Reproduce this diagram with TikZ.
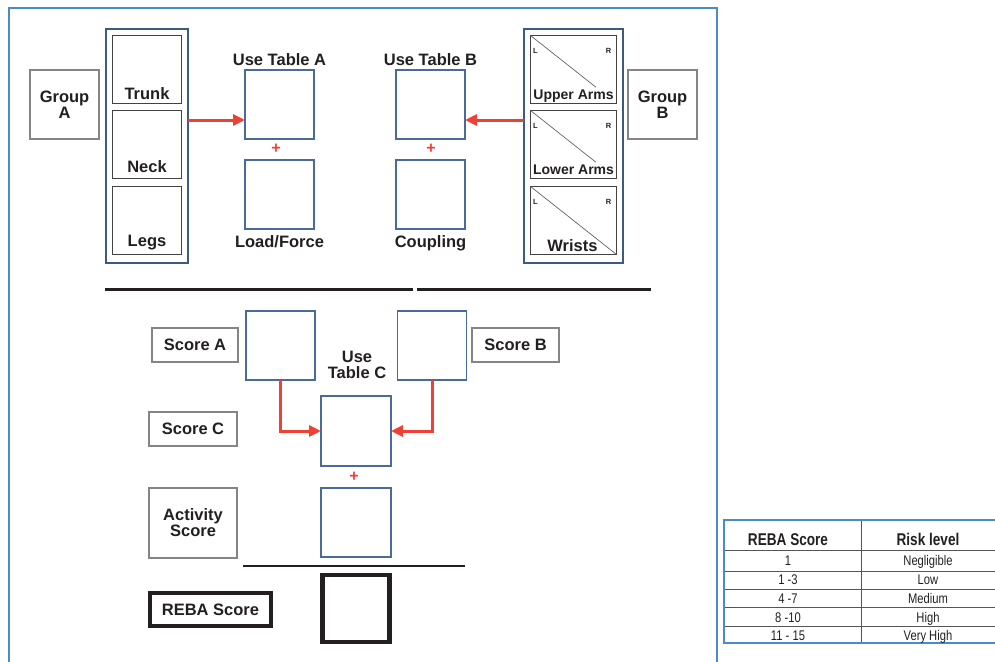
\documentclass[tikz,border=0pt]{standalone}
\usepackage{fontspec}
\setmainfont{Liberation Sans}
\newfontfamily\condfont[FakeStretch=0.8]{Liberation Sans}
\usetikzlibrary{arrows.meta,calc}
\definecolor{ink}{HTML}{231F20}
\definecolor{boxblue}{HTML}{4A6A99}
\definecolor{colblue}{HTML}{3D5A80}
\definecolor{lblgray}{HTML}{858585}
\definecolor{redarr}{HTML}{EE4035}
\definecolor{frameblue}{HTML}{4A8CCB}
\definecolor{tabline}{HTML}{555555}
\begin{document}
\begin{tikzpicture}[x=1pt,y=-1pt,
  txt/.style={font=\fontsize{16.5}{16.5}\selectfont\bfseries, text=ink, align=center, inner sep=0},
  sm/.style={font=\fontsize{14}{15}\selectfont\bfseries, text=ink, inner sep=0},
  lr/.style={font=\fontsize{7.5}{8}\selectfont\bfseries, text=ink, inner sep=0},
  bbox/.style={draw=boxblue, line width=1.2pt, inner sep=0, outer sep=0},
  cbox/.style={draw=colblue, line width=2pt, inner sep=0, outer sep=0},
  ibox/.style={draw=ink!85, line width=1.1pt, inner sep=0, outer sep=0},
  gbox/.style={draw=lblgray, line width=1.5pt, inner sep=0, outer sep=0, font=\fontsize{16.5}{17}\selectfont\bfseries, text=ink, align=center},
  kbox/.style={draw=ink, line width=4.5pt, inner sep=0, outer sep=0},
  redarrow/.style={draw=redarr, line width=3pt, -{Triangle[length=12pt,width=11pt]}},
  plus/.style={font=\fontsize{16}{16}\selectfont\bfseries, text=redarr, inner sep=0},
  diag/.style={draw=ink!70, line width=0.7pt},
  thead/.style={font=\condfont\fontsize{17}{17}\selectfont\bfseries, text=ink, inner sep=0, anchor=base},
  tcell/.style={font=\condfont\fontsize{14}{14}\selectfont, text=ink, inner sep=0, anchor=base},
  tl/.style={draw=tabline, line width=1pt},
  tb/.style={draw=frameblue, line width=1.2pt}
]
\useasboundingbox (0,0) rectangle (995,661);
\clip (0,0) rectangle (995,661);

% frame
\draw[draw=frameblue, line width=1.2pt] (9,665) -- (9,8) -- (717,8) -- (717,665);

% Group A side
\node[gbox, minimum width=69pt, minimum height=69pt] (grpA) at (64.5,104.5) {Group\\[-1pt]A};
\node[cbox, minimum width=82pt, minimum height=233pt] (colA) at (146.5,146) {};
\node[ibox, minimum width=69pt, minimum height=68pt] (trunk) at (147,69.5) {};
\node[ibox, minimum width=69pt, minimum height=68pt] (neck) at (147,144.5) {};
\node[ibox, minimum width=69pt, minimum height=68pt] (legs) at (147,220.5) {};
\node[txt, anchor=base] (trunkT) at ([yshift=4pt]trunk.south) {Trunk};
\node[txt, anchor=base] (neckT) at ([yshift=6pt]neck.south) {Neck};
\node[txt, anchor=base] (legsT) at ([yshift=8pt]legs.south) {Legs};

\node[bbox, minimum width=69pt, minimum height=69pt] (tabA) at (279.5,104.5) {};
\node[bbox, minimum width=69pt, minimum height=69pt] (load) at (279.5,194.5) {};
\node[txt, anchor=base] (tabAT) at (279.5,66) {Use Table A};
\node[txt, anchor=base] (loadT) at (279.5,247) {Load/Force};
\node[plus] (plusA) at (276,149) {+};

% Group B side
\node[bbox, minimum width=69pt, minimum height=69pt] (tabB) at (430.5,104.5) {};
\node[bbox, minimum width=69pt, minimum height=69pt] (coup) at (430.5,194.5) {};
\node[txt, anchor=base] (tabBT) at (430.5,66) {Use Table B};
\node[txt, anchor=base] (coupT) at (430.5,247) {Coupling};
\node[plus] (plusB) at (431,149) {+};

\node[cbox, minimum width=99pt, minimum height=233pt] (colB) at (573,146) {};
\node[ibox, minimum width=86pt, minimum height=68pt] (uarm) at (573.5,69.5) {};
\node[ibox, minimum width=86pt, minimum height=68pt] (larm) at (573.5,144.5) {};
\node[ibox, minimum width=86pt, minimum height=68pt] (wrist) at (573.5,220.5) {};
\draw[diag] (uarm.north west) -- ($(uarm.north west)!0.76!(uarm.south east)$);
\draw[diag] (larm.north west) -- ($(larm.north west)!0.76!(larm.south east)$);
\draw[diag] (wrist.north west) -- (wrist.south east);
\node[sm, anchor=base] (uarmT) at ([yshift=4pt]uarm.south) {Upper Arms};
\node[sm, anchor=base] (larmT) at ([yshift=4pt]larm.south) {Lower Arms};
\node[txt, anchor=base] (wristT) at ([xshift=-1pt,yshift=3pt]wrist.south) {Wrists};
\foreach \b in {uarm,larm,wrist}{
  \node[lr] (\b L) at ($(\b.north west)+(5,15)$) {L};
  \node[lr] (\b R) at ($(\b.north east)+(-8,15)$) {R};
}
\node[gbox, minimum width=69pt, minimum height=69pt] (grpB) at (662.5,104.5) {Group\\[-1pt]B};

% arrows top
\coordinate (ya) at (0,120);
\draw[redarrow] (colA.east |- ya) -- (tabA.west |- ya);
\draw[redarrow] (colB.west |- ya) -- (tabB.east |- ya);

% separator lines
\coordinate (sepL1) at (105,289);
\coordinate (sepL2) at (413,289);
\coordinate (sepR1) at (417,289);
\coordinate (sepR2) at (651,289);
\draw[ink, line width=3pt] (sepL1) -- (sepL2);
\draw[ink, line width=3pt] (sepR1) -- (sepR2);

% lower part
\node[gbox, minimum width=86pt, minimum height=34pt] (sAL) at (195,345) {Score A};
\node[bbox, minimum width=69pt, minimum height=69pt] (sA) at (280.5,345.5) {};
\node[bbox, minimum width=69pt, minimum height=69pt] (sB) at (432,345.5) {};
\node[gbox, minimum width=87pt, minimum height=34pt] (sBL) at (515.5,345) {Score B};
\node[txt] (tabCT) at (357,365) {Use\\Table C};
\node[bbox, minimum width=70pt, minimum height=70pt] (tabC) at (356,431) {};
\node[gbox, minimum width=88pt, minimum height=34pt] (sCL) at (193,429) {Score C};
\draw[redarrow] (sA.south) |- (tabC.west);
\draw[redarrow] (sB.south) |- (tabC.east);
\node[plus] (plusC) at (354,477) {+};
\node[gbox, minimum width=88pt, minimum height=70pt] (actL) at (193,523) {Activity\\[-1pt]Score};
\node[bbox, minimum width=70pt, minimum height=69pt] (act) at (356,522.5) {};
\coordinate (sumL) at (243,566);
\coordinate (sumR) at (465,566);
\draw[ink, line width=2.5pt] (sumL) -- (sumR);
\node[kbox, minimum width=67pt, minimum height=67pt] (reba) at (356,608.5) {};
\node[draw=ink, line width=4pt, inner sep=0, outer sep=0, minimum width=121pt, minimum height=33pt,
      font=\fontsize{16.5}{17}\selectfont\bfseries, text=ink] (rebaL) at (210.5,609.5) {REBA Score};

% table
\draw[tl] (724,550) -- (1000,550);
\draw[tl] (724,571) -- (1000,571);
\draw[tl] (724,589) -- (1000,589);
\draw[tl] (724,607) -- (1000,607);
\draw[tl] (724,626) -- (1000,626);
\draw[tl] (861,520) -- (861,643);
\draw[tb] (1000,520) -- (724,520) -- (724,643) -- (1000,643);
\node[thead] (h1) at (788,545) {REBA Score};
\node[thead] (h2) at (928,545) {Risk level};
\node[tcell] (r1a) at (788,565) {1};
\node[tcell] (r1b) at (928,565) {Negligible};
\node[tcell] (r2a) at (788,584.5) {1 -3};
\node[tcell] (r2b) at (928,584.5) {Low};
\node[tcell] (r3a) at (788,603) {4 -7};
\node[tcell] (r3b) at (928,603) {Medium};
\node[tcell] (r4a) at (788,622) {8 -10};
\node[tcell] (r4b) at (928,622) {High};
\node[tcell] (r5a) at (788,640) {11 - 15};
\node[tcell] (r5b) at (928,640) {Very High};
\end{tikzpicture}
\end{document}
